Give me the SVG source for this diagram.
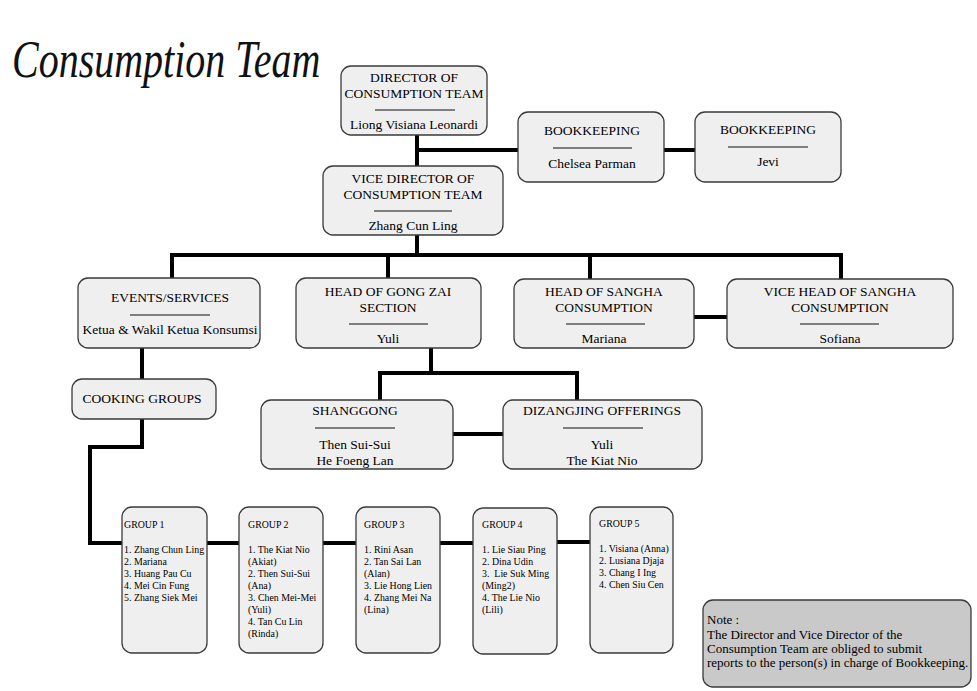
<svg xmlns="http://www.w3.org/2000/svg" width="977" height="691" viewBox="0 0 977 691">
<style>
.box{fill:#efefef;stroke:#3a3a3a;stroke-width:1.3}
.note{fill:#c9c9c9;stroke:#3a3a3a;stroke-width:1.3}
.t{font-family:"Liberation Serif","Times New Roman",serif;font-size:13.5px;fill:#000;text-anchor:middle}
.g{font-family:"Liberation Serif","Times New Roman",serif;font-size:9.9px;fill:#000}
.n{font-family:"Liberation Serif","Times New Roman",serif;font-size:13px;fill:#000}
.ul{stroke:#111;stroke-width:1.2}
.c{fill:none;stroke:#000;stroke-width:4;stroke-linejoin:miter}
.title{font-family:"Liberation Serif",serif;font-style:italic;font-size:40px;fill:#111}
</style>
<rect width="977" height="691" fill="#fff"/>
<text class="title" transform="translate(12,77) scale(1,1.3)" x="0" y="0">Consumption Team</text>

<g id="connectors">
<path class="c" d="M417 135 V166"/>
<path class="c" d="M417 150 H518"/>
<path class="c" d="M664 150 H695"/>
<path class="c" d="M417 235 V255"/>
<path class="c" d="M172 278 V255 H841 V279"/>
<path class="c" d="M388 255 V278"/>
<path class="c" d="M590 255 V279"/>
<path class="c" d="M694 317 H727"/>
<path class="c" d="M142 348 V379"/>
<path class="c" d="M431 348 V373"/>
<path class="c" d="M380 400 V373 H577 V400"/>
<path class="c" d="M453 434 H503"/>
<path class="c" d="M142 419 V447 H90 V543 H122"/>
<path class="c" d="M207 543 H239"/>
<path class="c" d="M323 543 H356"/>
<path class="c" d="M440 543 H473"/>
<path class="c" d="M557 542 H590"/>
</g>

<g id="director">
<rect class="box" x="341" y="66" width="146" height="69" rx="10"/>
<text class="t" x="414" y="82">DIRECTOR OF</text>
<text class="t" x="414" y="98">CONSUMPTION TEAM</text>
<line class="ul" x1="375" y1="110" x2="455" y2="110"/>
<text class="t" x="414" y="129">Liong Visiana Leonardi</text>
</g>

<g id="bookkeeping1">
<rect class="box" x="518" y="112" width="146" height="70" rx="10"/>
<text class="t" x="592" y="135">BOOKKEEPING</text>
<line class="ul" x1="553" y1="148" x2="632" y2="148"/>
<text class="t" x="592" y="168">Chelsea Parman</text>
</g>

<g id="bookkeeping2">
<rect class="box" x="695" y="112" width="146" height="70" rx="10"/>
<text class="t" x="768" y="134">BOOKKEEPING</text>
<line class="ul" x1="728" y1="147" x2="808" y2="147"/>
<text class="t" x="768" y="166">Jevi</text>
</g>

<g id="vice-director">
<rect class="box" x="323" y="166" width="180" height="69" rx="10"/>
<text class="t" x="413" y="183">VICE DIRECTOR OF</text>
<text class="t" x="413" y="199">CONSUMPTION TEAM</text>
<line class="ul" x1="374" y1="211" x2="452" y2="211"/>
<text class="t" x="413" y="230">Zhang Cun Ling</text>
</g>

<g id="events">
<rect class="box" x="78" y="278" width="182" height="70" rx="10"/>
<text class="t" x="170" y="302">EVENTS/SERVICES</text>
<line class="ul" x1="130" y1="315" x2="210" y2="315"/>
<text class="t" x="170" y="334">Ketua &amp; Wakil Ketua Konsumsi</text>
</g>

<g id="gong-zai">
<rect class="box" x="296" y="278" width="185" height="70" rx="10"/>
<text class="t" x="388" y="296">HEAD OF GONG ZAI</text>
<text class="t" x="388" y="312">SECTION</text>
<line class="ul" x1="349" y1="324" x2="428" y2="324"/>
<text class="t" x="388" y="343">Yuli</text>
</g>

<g id="head-sangha">
<rect class="box" x="514" y="279" width="180" height="69" rx="10"/>
<text class="t" x="604" y="296">HEAD OF SANGHA</text>
<text class="t" x="604" y="312">CONSUMPTION</text>
<line class="ul" x1="566" y1="324" x2="645" y2="324"/>
<text class="t" x="604" y="343">Mariana</text>
</g>

<g id="vice-head-sangha">
<rect class="box" x="727" y="279" width="226" height="69" rx="10"/>
<text class="t" x="840" y="296">VICE HEAD OF SANGHA</text>
<text class="t" x="840" y="312">CONSUMPTION</text>
<line class="ul" x1="800" y1="324" x2="879" y2="324"/>
<text class="t" x="840" y="343">Sofiana</text>
</g>

<g id="cooking-groups">
<rect class="box" x="72" y="379" width="144" height="40" rx="10"/>
<text class="t" x="142" y="403">COOKING GROUPS</text>
</g>

<g id="shanggong">
<rect class="box" x="261" y="400" width="192" height="69" rx="10"/>
<text class="t" x="355" y="415">SHANGGONG</text>
<line class="ul" x1="315" y1="428" x2="395" y2="428"/>
<text class="t" x="355" y="449">Then Sui-Sui</text>
<text class="t" x="355" y="465">He Foeng Lan</text>
</g>

<g id="dizangjing">
<rect class="box" x="503" y="400" width="199" height="69" rx="10"/>
<text class="t" x="602" y="415">DIZANGJING OFFERINGS</text>
<line class="ul" x1="563" y1="428" x2="643" y2="428"/>
<text class="t" x="602" y="449">Yuli</text>
<text class="t" x="602" y="465">The Kiat Nio</text>
</g>

<g id="group1">
<rect class="box" x="122" y="507" width="85" height="146" rx="10"/>
<text class="g" x="124" y="528">GROUP 1</text>
<text class="g" x="124" y="553">1. Zhang Chun Ling</text>
<text class="g" x="124" y="565">2. Mariana</text>
<text class="g" x="124" y="577">3. Huang Pau Cu</text>
<text class="g" x="124" y="589">4. Mei Cin Fung</text>
<text class="g" x="124" y="601">5. Zhang Siek Mei</text>
</g>

<g id="group2">
<rect class="box" x="239" y="507" width="84" height="146" rx="10"/>
<text class="g" x="248" y="528">GROUP 2</text>
<text class="g" x="248" y="553">1. The Kiat Nio</text>
<text class="g" x="248" y="565">(Akiat)</text>
<text class="g" x="248" y="577">2. Then Sui-Sui</text>
<text class="g" x="248" y="589">(Ana)</text>
<text class="g" x="248" y="601">3. Chen Mei-Mei</text>
<text class="g" x="248" y="613">(Yuli)</text>
<text class="g" x="248" y="625">4. Tan Cu Lin</text>
<text class="g" x="248" y="637">(Rinda)</text>
</g>

<g id="group3">
<rect class="box" x="356" y="507" width="84" height="146" rx="10"/>
<text class="g" x="364" y="528">GROUP 3</text>
<text class="g" x="364" y="553">1. Rini Asan</text>
<text class="g" x="364" y="565">2. Tan Sai Lan</text>
<text class="g" x="364" y="577">(Alan)</text>
<text class="g" x="364" y="589">3. Lie Hong Lien</text>
<text class="g" x="364" y="601">4. Zhang Mei Na</text>
<text class="g" x="364" y="613">(Lina)</text>
</g>

<g id="group4">
<rect class="box" x="473" y="508" width="84" height="146" rx="10"/>
<text class="g" x="482" y="528">GROUP 4</text>
<text class="g" x="482" y="553">1. Lie Siau Ping</text>
<text class="g" x="482" y="565">2. Dina Udin</text>
<text class="g" x="482" y="577" xml:space="preserve">3.  Lie Suk Ming</text>
<text class="g" x="482" y="589">(Ming2)</text>
<text class="g" x="482" y="601">4. The Lie Nio</text>
<text class="g" x="482" y="613">(Lili)</text>
</g>

<g id="group5">
<rect class="box" x="590" y="507" width="83" height="146" rx="10"/>
<text class="g" x="599" y="527">GROUP 5</text>
<text class="g" x="599" y="552">1. Visiana (Anna)</text>
<text class="g" x="599" y="564">2. Lusiana Djaja</text>
<text class="g" x="599" y="576">3. Chang I Ing</text>
<text class="g" x="599" y="588">4. Chen Siu Cen</text>
</g>

<g id="note">
<rect class="note" x="703" y="600" width="268" height="87" rx="10"/>
<text class="n" x="707" y="624">Note :</text>
<text class="n" x="707" y="639">The Director and Vice Director of the</text>
<text class="n" x="707" y="653">Consumption Team are obliged to submit</text>
<text class="n" x="707" y="667">reports to the person(s) in charge of Bookkeeping.</text>
</g>
</svg>
